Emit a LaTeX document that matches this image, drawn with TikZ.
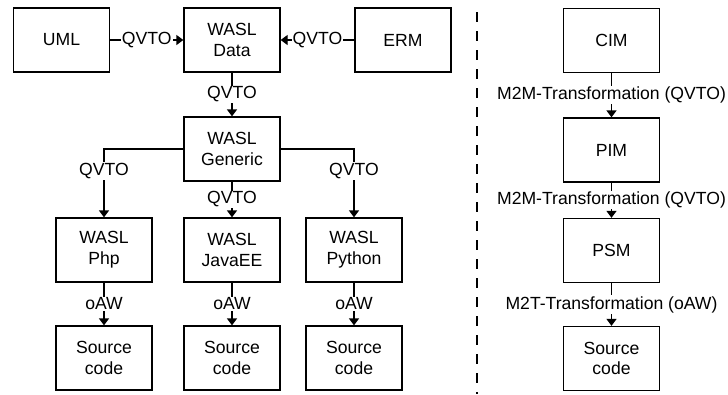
\documentclass[tikz,border=0pt]{standalone}
\usepackage{fontspec}
\setmainfont{Liberation Sans}
\usetikzlibrary{arrows.meta}
\begin{document}
\begin{tikzpicture}[x=1pt,y=-1pt,
  every node/.style={font=\fontsize{17.6}{20.7}\selectfont},
  box/.style={draw,line width=1.3pt,minimum width=96pt,minimum height=64pt,align=center,inner sep=0pt},
  conn/.style={line width=1.3pt,-{Triangle[width=10pt,length=7pt]}},
  lbl/.style={fill=white,inner sep=1pt}]
\useasboundingbox (0,0) rectangle (728,394);
% left side
\node[box] (uml) at (61.5,40) {UML};
\node[box] (data) at (232,40) {WASL\\Data};
\node[box] (erm) at (403,40) {ERM};
\node[box] (gen) at (232,149) {WASL\\Generic};
\node[box] (php) at (104,250) {WASL\\Php};
\node[box] (java) at (232,250) {WASL\\JavaEE};
\node[box] (py) at (354,250) {WASL\\Python};
\node[box] (s1) at (104,358) {Source\\code};
\node[box] (s2) at (232,358) {Source\\code};
\node[box] (s3) at (354,358) {Source\\code};
\draw[conn] (uml) -- node[lbl]{QVTO} (data);
\draw[conn] (erm) -- node[lbl]{QVTO} (data);
\draw[conn] (data) -- node[lbl]{QVTO} (gen);
\draw[conn] (gen.west) -| node[lbl,pos=0.66]{QVTO} (php.north);
\draw[conn] (gen.east) -| node[lbl,pos=0.66]{QVTO} (py.north);
\draw[conn] (gen) -- node[lbl]{QVTO} (java);
\draw[conn] (php) -- node[lbl]{oAW} (s1);
\draw[conn] (java) -- node[lbl]{oAW} (s2);
\draw[conn] (py) -- node[lbl]{oAW} (s3);
% separator
\coordinate (d1) at (477,12);
\coordinate (d2) at (477,394);
\draw[line width=1.3pt,dash pattern=on 10pt off 9pt] (d1) -- (d2);
% right side
\node[box] (cim) at (611.5,40.5) {CIM};
\node[box] (pim) at (611.5,150) {PIM};
\node[box] (psm) at (611.5,250.5) {PSM};
\node[box] (s4) at (611.5,358.5) {Source\\code};
\draw[conn] (cim) -- node[lbl]{M2M-Transformation (QVTO)} (pim);
\draw[conn] (pim) -- node[lbl]{M2M-Transformation (QVTO)} (psm);
\draw[conn] (psm) -- node[lbl]{M2T-Transformation (oAW)} (s4);
\end{tikzpicture}
\end{document}
